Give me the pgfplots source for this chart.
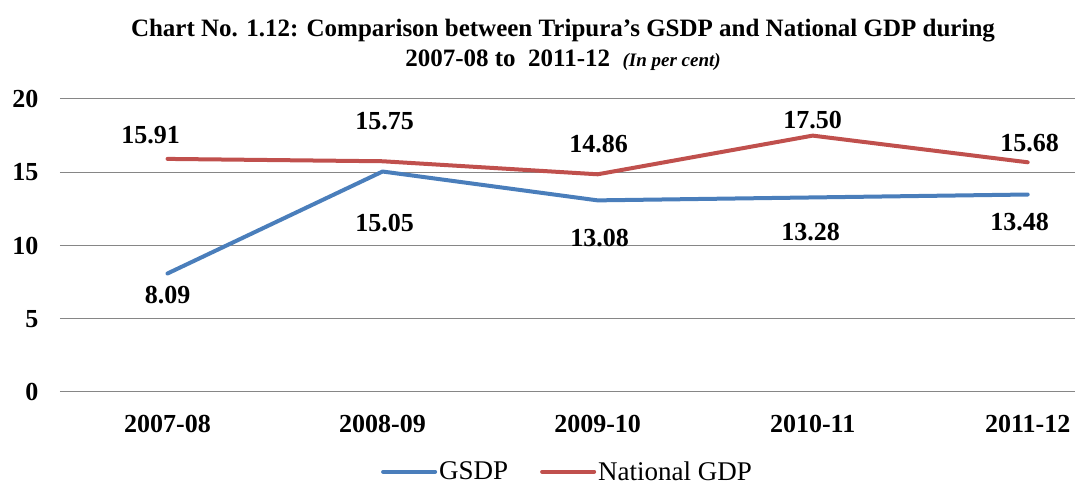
\documentclass[border=0pt]{standalone}
\usepackage{pgfplots}
\pgfplotsset{compat=1.18}
\usepackage{pgfplotstable}
\usepackage{fontspec}
\setmainfont{Liberation Serif}
\definecolor{gsdpblue}{RGB}{74,126,187}
\definecolor{gdpred}{RGB}{192,80,77}
\definecolor{gridgray}{RGB}{134,134,134}

% x, value, label offsets (pt)
\pgfplotstableread{
x  y      dx  dy
0  8.09   0   -22
1  15.05  2   -52
2  13.08  2   -38
3  13.28  -2  -35
4  13.48  -8  -28
}\gsdp
\pgfplotstableread{
x  y      dx  dy
0  15.91  -17 24
1  15.75  2   40
2  14.86  1   30
3  17.50  0   16
4  15.68  2   19
}\natgdp

\begin{document}
\begin{tikzpicture}
\begin{axis}[
    at={(0,0)}, anchor=south west,
    scale only axis,
    width=1015pt, height=293pt,
    xmin=-0.5, xmax=4.22,
    ymin=0, ymax=20,
    ytick={0,5,...,20},
    xtick={0,...,4},
    xticklabels={2007-08,2008-09,2009-10,2010-11,2011-12},
    axis line style={draw=none},
    major tick length=0pt,
    ymajorgrids,
    grid style={gridgray, line width=1pt},
    tick label style={font=\fontsize{26}{30}\selectfont\bfseries},
    /pgf/number format/assume math mode=true,
    yticklabel style={xshift=-18pt},
    xticklabel style={yshift=-20pt},
    clip=false,
    nodes near coords={\pgfmathprintnumber[fixed,fixed zerofill,precision=2]{\pgfplotspointmeta}},
    visualization depends on={\thisrow{dx} \as \dx},
    visualization depends on={\thisrow{dy} \as \dy},
    nodes near coords style={anchor=center, xshift=\dx pt, yshift=\dy pt,
        font=\fontsize{26}{30}\selectfont\bfseries, text=black,
        /pgf/number format/assume math mode=true},
    legend style={at={(rel axis cs:0.5,-0.272)}, anchor=center, draw=none, fill=none,
        legend columns=2, font=\fontsize{27}{30}\selectfont,
        /tikz/every even column/.append style={column sep=30pt},
        legend cell align=left, inner sep=0pt},
    legend image code/.code={\draw[#1] (0pt,0pt) -- (52pt,0pt);},
]
\addplot[gsdpblue, line width=4pt, line cap=round, line join=round] table[x=x,y=y] {\gsdp};
\addlegendentry{GSDP}
\addplot[gdpred, line width=4pt, line cap=round, line join=round] table[x=x,y=y] {\natgdp};
\addlegendentry{National GDP}
\end{axis}
\node[font=\fontsize{25}{30}\selectfont\bfseries, align=center, anchor=center] at (503pt,347pt)
  {Chart No. 1.12: Comparison between Tripura's GSDP and National GDP during\\
   2007-08 to\ \ 2011-12\ \ {\fontsize{19}{22}\selectfont\itshape (In per cent)}};
\pgfresetboundingbox
\path[use as bounding box] (-60pt,-94pt) rectangle (1015pt,392pt);
\end{tikzpicture}
\end{document}
